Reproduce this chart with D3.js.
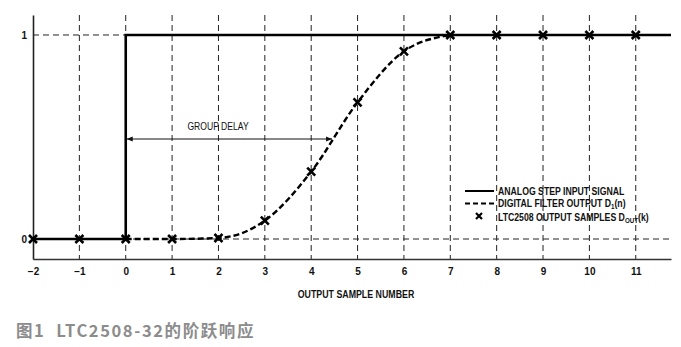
<!DOCTYPE html>
<html>
<head>
  <meta charset='utf-8'>
  <style>
  body { margin: 0; background: #fff; }
  svg { display: block; }
  .lbl {
    font-family: 'Liberation Sans', Arial, sans-serif;
    font-weight: bold;
    fill: #111;
  }
  .grid {
    stroke: #222;
    stroke-width: 1;
    stroke-dasharray: 6,4;
    fill: none;
  }
  </style>
</head>
<body>
<script src='https://cdn.jsdelivr.net/npm/d3@7'></script>
<script>

var W = 681, H = 347;

// data
var sampleN = [-2, -1, 0, 1, 2, 3, 4, 5, 6, 7, 8, 9, 10, 11];
var sampleVal = [0, 0, 0, 0, 0.005, 0.09, 0.33, 0.67, 0.92, 1, 1, 1, 1, 1];
var filterN = [0, 1, 2, 3, 4, 5, 6, 7];
var filterVal = [0, 0, 0.005, 0.09, 0.33, 0.67, 0.92, 1];
var stepN = [-2, 0, 0, 11.76];
var stepVal = [0, 0, 1, 1];
var xTicks = [-2, -1, 0, 1, 2, 3, 4, 5, 6, 7, 8, 9, 10, 11];
var yTicks = [0, 1];
var legendLabels = ['ANALOG STEP INPUT SIGNAL', 'DIGITAL FILTER OUTPUT D', 'LTC2508 OUTPUT SAMPLES D'];
var groupDelay = [0, 4.45];

var svg = d3.select('body').append('svg')
    .attr('width', W).attr('height', H);

var x = d3.scaleLinear().domain([-2, 11.76]).range([33, 671]);
var y = d3.scaleLinear().domain([-0.098, 1.098]).range([259, 15]);

var g = svg.append('g');

// condensed text helper
function narrow(sel, px, py, k) {
  return sel.append('g')
      .attr('transform', 'translate(' + px + ',' + py + ') scale(' + k + ',1)')
    .append('text').attr('class', 'lbl');
}

// vertical dashed grid
g.selectAll('.vgrid')
    .data(xTicks.filter(function(d) { return d > -2; }))
  .enter().append('line')
    .attr('class', 'grid')
    .attr('x1', function(d) { return x(d); })
    .attr('x2', function(d) { return x(d); })
    .attr('y1', y.range()[1])
    .attr('y2', y.range()[0]);

// horizontal dashed grid
g.append('line').attr('class', 'grid')
    .attr('x1', x(-2)).attr('x2', x(11.76))
    .attr('y1', y(0)).attr('y2', y(0));
g.append('line').attr('class', 'grid')
    .attr('x1', x(-2)).attr('x2', x(0))
    .attr('y1', y(1)).attr('y2', y(1));

// axes
var xAxis = d3.axisBottom(x).tickValues(xTicks).tickSize(0).tickPadding(9)
    .tickFormat(function(d) { return d < 0 ? '\u2212' + (-d) : d; });
var gx = g.append('g').attr('transform', 'translate(0,' + y(-0.098) + ')').call(xAxis);
gx.select('.domain').attr('stroke', '#333').attr('stroke-width', 1.6);
gx.selectAll('text').attr('class', 'lbl').style('font-size', '10px');

var yAxis = d3.axisLeft(y).tickValues(yTicks).tickSize(0).tickPadding(6)
    .tickFormat(d3.format('d'));
var gy = g.append('g').attr('transform', 'translate(' + x(-2) + ',0)').call(yAxis);
gy.select('.domain').attr('stroke', '#222').attr('stroke-width', 1.6);
gy.selectAll('text').attr('class', 'lbl').style('font-size', '10px');

narrow(g, 356, 298, 0.84)
    .attr('text-anchor', 'middle')
    .style('font-size', '10.5px')
    .text('OUTPUT SAMPLE NUMBER');

// step input
var line = d3.line()
    .x(function(d) { return x(d[0]); })
    .y(function(d) { return y(d[1]); });

g.append('path')
    .datum(d3.zip(stepN, stepVal))
    .attr('d', line)
    .attr('fill', 'none')
    .attr('stroke', '#000')
    .attr('stroke-width', 2.6);

// filter output
var curve = d3.line()
    .curve(d3.curveMonotoneX)
    .x(function(d) { return x(d[0]); })
    .y(function(d) { return y(d[1]); });

g.append('path')
    .datum(d3.zip(filterN, filterVal))
    .attr('d', curve)
    .attr('fill', 'none')
    .attr('stroke', '#000')
    .attr('stroke-width', 2.4)
    .attr('stroke-dasharray', '6,3');

// sample markers
var xMark = 'M-4,-4L4,4M-4,4L4,-4';
g.selectAll('.mk')
    .data(d3.zip(sampleN, sampleVal))
  .enter().append('path')
    .attr('d', xMark)
    .attr('transform', function(d) { return 'translate(' + x(d[0]) + ',' + y(d[1]) + ')'; })
    .attr('fill', 'none')
    .attr('stroke', '#000')
    .attr('stroke-width', 2.6);

// group delay arrow
var defs = svg.append('defs');
['ahL', 'ahR'].forEach(function(id) {
  defs.append('marker')
      .attr('id', id)
      .attr('viewBox', '0 0 10 10')
      .attr('refX', 10).attr('refY', 5)
      .attr('markerWidth', 8).attr('markerHeight', 6)
      .attr('markerUnits', 'userSpaceOnUse')
      .attr('orient', 'auto-start-reverse')
    .append('path')
      .attr('d', 'M0,1 L10,5 L0,9 Z')
      .attr('fill', '#111');
});
g.append('line')
    .attr('x1', x(groupDelay[0]) + 1).attr('x2', x(groupDelay[1]))
    .attr('y1', 139).attr('y2', 139)
    .attr('stroke', '#111').attr('stroke-width', 1)
    .attr('marker-start', 'url(#ahL)')
    .attr('marker-end', 'url(#ahR)');
narrow(g, 218, 130, 0.86)
    .attr('text-anchor', 'middle')
    .style('font-size', '10px').style('font-weight', 'normal')
    .text('GROUP DELAY');

// legend
var lg = g.append('g').attr('transform', 'translate(465,191)');
var rows = lg.selectAll('g').data(legendLabels).enter().append('g')
    .attr('transform', function(d, i) { return 'translate(0,' + [0, 12.5, 26][i] + ')'; });
rows.filter(function(d, i) { return i < 2; }).append('line')
    .attr('x1', 0).attr('x2', 29)
    .attr('stroke', '#000').attr('stroke-width', 2)
    .attr('stroke-dasharray', function(d, i) { return i === 1 ? '5,3' : null; });
rows.filter(function(d, i) { return i === 2; }).append('path')
    .attr('d', 'M-3,-3L3,3M-3,3L3,-3')
    .attr('transform', 'translate(14,-1)')
    .attr('stroke', '#000').attr('stroke-width', 2.2);
rows.each(function(d, i) {
  var t = narrow(d3.select(this), 33, 3.5, 0.83).style('font-size', '10.5px');
  t.append('tspan').text(d);
  if (i > 0) {
    t.append('tspan').attr('dy', 2).style('font-size', '7.5px').text(i === 1 ? '1' : 'OUT');
    t.append('tspan').attr('dy', -2).text(i === 1 ? '(n)' : '(k)');
  }
});

// caption
svg.append('text')
    .attr('x', 16).attr('y', 337)
    .style('font-family', "'Noto Sans CJK SC', sans-serif")
    .style('font-size', '16.5px')
    .style('font-weight', 'bold')
    .style('letter-spacing', '1.6px')
    .attr('fill', '#8c8c8c')
    .attr('xml:space', 'preserve')
    .text('图1  LTC2508-32的阶跃响应');

</script>
</body>
</html>
